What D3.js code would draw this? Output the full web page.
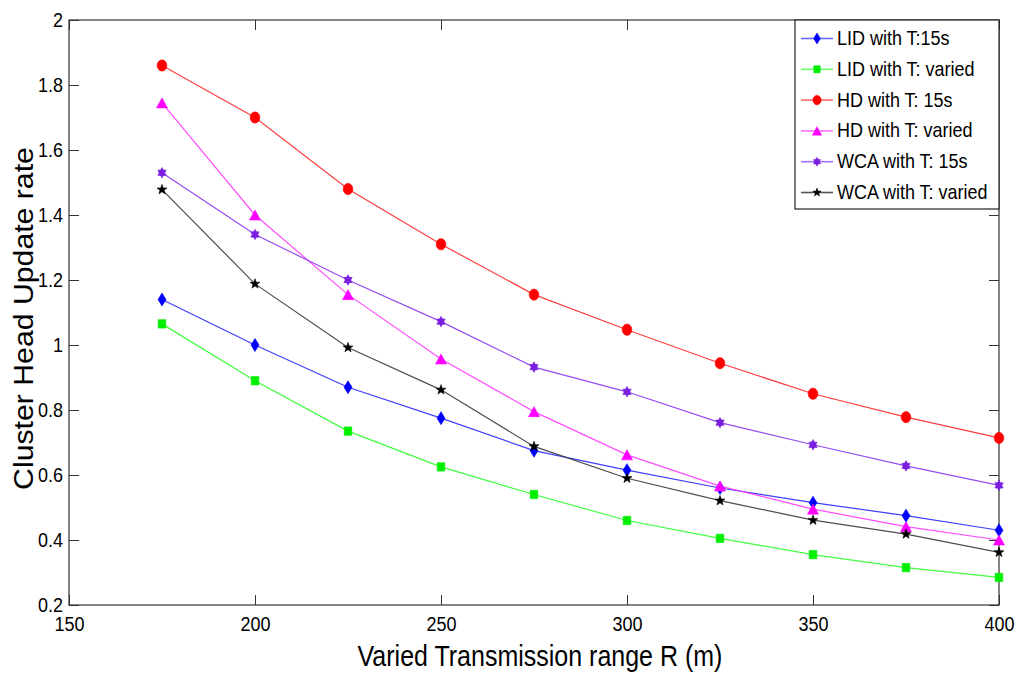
<!DOCTYPE html>
<html>
<head>
<meta charset="utf-8">
<script src="https://cdn.jsdelivr.net/npm/d3@7"></script>
<style>
  html, body { margin: 0; padding: 0; background: #fff; }
  svg { display: block; font-family: "Liberation Sans", Arial, Helvetica, sans-serif; }
</style>
</head>
<body>
<svg id="chart" width="1017" height="675"></svg>
<script>
// Transmission range (m)
const ranges = [175, 200, 225, 250, 275, 300, 325, 350, 375, 400];

// Cluster head update rate per algorithm / timer setting
const lidFixed   = [1.14, 1.00, 0.87, 0.775, 0.675, 0.615, 0.56, 0.515, 0.475, 0.43];
const lidVaried  = [1.065, 0.89, 0.735, 0.625, 0.54, 0.46, 0.405, 0.355, 0.315, 0.285];
const hdFixed    = [1.86, 1.70, 1.48, 1.31, 1.155, 1.047, 0.944, 0.85, 0.778, 0.714];
const hdVaried   = [1.745, 1.40, 1.155, 0.957, 0.795, 0.662, 0.566, 0.495, 0.441, 0.40];
const wcaFixed   = [1.53, 1.34, 1.20, 1.072, 0.932, 0.856, 0.761, 0.693, 0.628, 0.568];
const wcaVaried  = [1.478, 1.188, 0.992, 0.862, 0.688, 0.59, 0.521, 0.461, 0.418, 0.362];

const seriesNames = ["LID with T:15s", "LID with T: varied", "HD with T: 15s",
                     "HD with T: varied", "WCA with T: 15s", "WCA with T: varied"];

const xTicks = [150, 200, 250, 300, 350, 400];
const yTicks = [0.2, 0.4, 0.6, 0.8, 1.0, 1.2, 1.4, 1.6, 1.8, 2.0];
const yTickLabels = ["0.2", "0.4", "0.6", "0.8", "1", "1.2", "1.4", "1.6", "1.8", "2"];

const xTitle = "Varied Transmission range R (m)";
const yTitle = "Cluster Head Update rate";

// ---- styles ----
const styles = [
  { values: lidFixed,  line: "#2a2aff", legendLine: "#6a6aff", fill: "#0000ff", marker: "diamond" },
  { values: lidVaried, line: "#2aff2a", legendLine: "#66ff66", fill: "#00ee00", marker: "square" },
  { values: hdFixed,   line: "#ff2a2a", legendLine: "#ff6a6a", fill: "#ff0000", marker: "circle" },
  { values: hdVaried,  line: "#ff3aff", legendLine: "#ff70ff", fill: "#ff00ff", marker: "triangle" },
  { values: wcaFixed,  line: "#8a3af0", legendLine: "#a870ff", fill: "#7a1ee0", marker: "hexagram" },
  { values: wcaVaried, line: "#3a3a3a", legendLine: "#555555", fill: "#000000", marker: "star" }
];

const svg = d3.select("#chart");
const plot = { left: 69, right: 999, top: 20, bottom: 605 };
const textStretch = 1.15;   // glyphs are drawn slightly taller than wide

const x = d3.scaleLinear().domain([150, 400]).range([plot.left, plot.right]);
const y = d3.scaleLinear().domain([0.2, 2]).range([plot.bottom, plot.top]);

// stretch a text element vertically about its own anchor point
function stretchText(sel) {
  sel.each(function () {
    const t = d3.select(this);
    const tx = +t.attr("x") || 0, ty = +t.attr("y") || 0;
    t.attr("transform", `translate(${tx},${ty}) scale(1,${textStretch}) translate(${-tx},${-ty})`);
  });
}

// ---- marker shapes (centred on 0,0) ----
function markerPath(type) {
  const p = d3.path();
  switch (type) {
    case "diamond": {
      const w = 4, h = 6.5;
      p.moveTo(0, -h); p.lineTo(w, 0); p.lineTo(0, h); p.lineTo(-w, 0); p.closePath();
      break;
    }
    case "square": {
      const w = 3.8, h = 4.2;
      p.rect(-w, -h, 2 * w, 2 * h);
      break;
    }
    case "circle": {
      const rx = 4.8, ry = 5.6, n = 32;
      for (let i = 0; i <= n; i++) {
        const a = (i / n) * 2 * Math.PI;
        const px = rx * Math.cos(a), py = ry * Math.sin(a);
        if (i === 0) p.moveTo(px, py); else p.lineTo(px, py);
      }
      p.closePath();
      break;
    }
    case "triangle": {
      const w = 5.5, h = 5;
      p.moveTo(0, -h); p.lineTo(w, h); p.lineTo(-w, h); p.closePath();
      break;
    }
    case "hexagram": {
      const r = 4.8, sy = 1.1;
      for (let k = 0; k < 2; k++) {
        for (let i = 0; i < 3; i++) {
          const a = -Math.PI / 2 + k * Math.PI + i * 2 * Math.PI / 3;
          const px = r * Math.cos(a), py = r * Math.sin(a) * sy;
          if (i === 0) p.moveTo(px, py); else p.lineTo(px, py);
        }
        p.closePath();
      }
      break;
    }
    case "star": {
      const ro = 5.2, ri = 2.1;
      for (let i = 0; i < 10; i++) {
        const r = i % 2 === 0 ? ro : ri;
        const a = -Math.PI / 2 + i * Math.PI / 5;
        const px = r * Math.cos(a), py = r * Math.sin(a);
        if (i === 0) p.moveTo(px, py); else p.lineTo(px, py);
      }
      p.closePath();
      break;
    }
  }
  return p.toString();
}

// ---- axes (ticks drawn inward on all four sides) ----
const tickLen = 10;
const fmtY = d => yTickLabels[yTicks.findIndex(t => Math.abs(t - d) < 1e-9)];

const axisStyle = g => {
  g.select(".domain").remove();
  g.selectAll(".tick line").attr("stroke", "#333").attr("stroke-width", 1);
  g.selectAll(".tick text").attr("fill", "#000").attr("font-size", 18)
    .attr("font-family", "Liberation Sans, Arial, sans-serif")
    .call(stretchText);
};

svg.append("g")
  .attr("transform", `translate(0,${plot.bottom})`)
  .call(d3.axisBottom(x).tickValues(xTicks).tickFormat(d3.format("d"))
    .tickSizeInner(-tickLen).tickSizeOuter(0).tickPadding(11))
  .call(axisStyle);

svg.append("g")
  .attr("transform", `translate(0,${plot.top})`)
  .call(d3.axisTop(x).tickValues(xTicks).tickFormat("")
    .tickSizeInner(-tickLen).tickSizeOuter(0))
  .call(axisStyle);

svg.append("g")
  .attr("transform", `translate(${plot.left},0)`)
  .call(d3.axisLeft(y).tickValues(yTicks).tickFormat(fmtY)
    .tickSizeInner(-tickLen).tickSizeOuter(0).tickPadding(6))
  .call(axisStyle);

svg.append("g")
  .attr("transform", `translate(${plot.right},0)`)
  .call(d3.axisRight(y).tickValues(yTicks).tickFormat("")
    .tickSizeInner(-tickLen).tickSizeOuter(0))
  .call(axisStyle);

// plot box
svg.append("rect")
  .attr("x", plot.left).attr("y", plot.top)
  .attr("width", plot.right - plot.left).attr("height", plot.bottom - plot.top)
  .attr("fill", "none").attr("stroke", "#333").attr("stroke-width", 1.2);

// ---- series ----
const line = d3.line().x((d, i) => x(ranges[i])).y(d => y(d));

styles.forEach(s => {
  svg.append("path")
    .datum(s.values)
    .attr("d", line)
    .attr("fill", "none")
    .attr("stroke", s.line)
    .attr("stroke-width", 1.2)
    .attr("stroke-opacity", 0.9);
});

styles.forEach(s => {
  const shape = markerPath(s.marker);
  svg.append("g").selectAll("path")
    .data(s.values)
    .join("path")
    .attr("d", shape)
    .attr("transform", (d, i) => `translate(${x(ranges[i])},${y(d)})`)
    .attr("fill", s.fill)
    .attr("stroke", s.fill)
    .attr("stroke-width", 0.6);
});

// ---- legend ----
const legend = svg.append("g").attr("transform", "translate(795,20)");
legend.append("rect")
  .attr("width", 204).attr("height", 189)
  .attr("fill", "#fff").attr("stroke", "#222").attr("stroke-width", 1.2);

const rowY = d3.scaleLinear().domain([0, 5]).range([18.5, 172.5]);
styles.forEach((s, i) => {
  const row = legend.append("g").attr("transform", `translate(0,${rowY(i)})`);
  row.append("line")
    .attr("x1", 6).attr("x2", 38).attr("y1", 0).attr("y2", 0)
    .attr("stroke", s.legendLine).attr("stroke-width", 1.6);
  row.append("path")
    .attr("d", markerPath(s.marker))
    .attr("transform", `translate(22,0) scale(0.85)`)
    .attr("fill", s.fill).attr("stroke", s.fill).attr("stroke-width", 0.6);
  row.append("text")
    .attr("x", 42).attr("y", 6.5)
    .attr("font-size", 18).attr("fill", "#000")
    .text(seriesNames[i])
    .call(stretchText);
});

// ---- axis titles ----
svg.append("text")
  .attr("x", (plot.left + plot.right) / 2 + 6)
  .attr("y", 666)
  .attr("text-anchor", "middle")
  .attr("font-size", 25)
  .attr("fill", "#000")
  .text(xTitle)
  .call(stretchText);

svg.append("text")
  .attr("transform", `translate(33,${(plot.top + plot.bottom) / 2 + 6}) rotate(-90) scale(1.12,1)`)
  .attr("text-anchor", "middle")
  .attr("font-size", 27)
  .attr("fill", "#000")
  .text(yTitle);
</script>
</body>
</html>
